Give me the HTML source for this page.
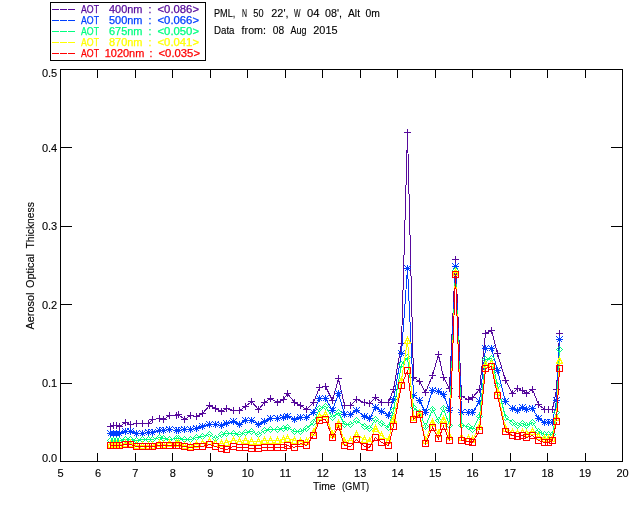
<!DOCTYPE html>
<html><head><meta charset="utf-8"><title>AOT plot</title>
<style>
html,body{margin:0;padding:0;background:#fff;}
body{width:640px;height:512px;overflow:hidden;}
svg{display:block;will-change:transform;}
text{font-family:"Liberation Sans",sans-serif;font-size:10.5px;fill:#000;stroke:#000;stroke-width:0.12px;}
.t{font-size:11px;}
.ax{stroke:#000;stroke-width:1;fill:none;shape-rendering:crispEdges;}
.s{fill:none;stroke-width:1;shape-rendering:crispEdges;}
</style></head><body>
<svg width="640" height="512" viewBox="0 0 640 512">
<rect width="640" height="512" fill="#fff"/>

<rect class="ax" x="60.5" y="69.5" width="562.0" height="392.0"/>
<path class="ax" d="M97.5 461.5v-8.5M97.5 69.5v8.5M135.5 461.5v-8.5M135.5 69.5v8.5M172.5 461.5v-8.5M172.5 69.5v8.5M210.5 461.5v-8.5M210.5 69.5v8.5M247.5 461.5v-8.5M247.5 69.5v8.5M285.5 461.5v-8.5M285.5 69.5v8.5M322.5 461.5v-8.5M322.5 69.5v8.5M360.5 461.5v-8.5M360.5 69.5v8.5M397.5 461.5v-8.5M397.5 69.5v8.5M435.5 461.5v-8.5M435.5 69.5v8.5M472.5 461.5v-8.5M472.5 69.5v8.5M510.5 461.5v-8.5M510.5 69.5v8.5M547.5 461.5v-8.5M547.5 69.5v8.5M585.5 461.5v-8.5M585.5 69.5v8.5M60.5 383.5h11.5M622.5 383.5h-11.5M60.5 304.5h11.5M622.5 304.5h-11.5M60.5 226.5h11.5M622.5 226.5h-11.5M60.5 147.5h11.5M622.5 147.5h-11.5"/>
<text x="60.5" y="477" text-anchor="middle" class="t">5</text>
<text x="98.0" y="477" text-anchor="middle" class="t">6</text>
<text x="135.4" y="477" text-anchor="middle" class="t">7</text>
<text x="172.9" y="477" text-anchor="middle" class="t">8</text>
<text x="210.4" y="477" text-anchor="middle" class="t">9</text>
<text x="247.8" y="477" text-anchor="middle" class="t">10</text>
<text x="285.3" y="477" text-anchor="middle" class="t">11</text>
<text x="322.8" y="477" text-anchor="middle" class="t">12</text>
<text x="360.2" y="477" text-anchor="middle" class="t">13</text>
<text x="397.7" y="477" text-anchor="middle" class="t">14</text>
<text x="435.2" y="477" text-anchor="middle" class="t">15</text>
<text x="472.6" y="477" text-anchor="middle" class="t">16</text>
<text x="510.1" y="477" text-anchor="middle" class="t">17</text>
<text x="547.6" y="477" text-anchor="middle" class="t">18</text>
<text x="585.0" y="477" text-anchor="middle" class="t">19</text>
<text x="622.5" y="477" text-anchor="middle" class="t">20</text>
<text x="57.2" y="461.5" text-anchor="end" class="t">0.0</text>
<text x="57.2" y="387.1" text-anchor="end" class="t">0.1</text>
<text x="57.2" y="308.7" text-anchor="end" class="t">0.2</text>
<text x="57.2" y="230.3" text-anchor="end" class="t">0.3</text>
<text x="57.2" y="151.9" text-anchor="end" class="t">0.4</text>
<text x="57.2" y="77.0" text-anchor="end" class="t">0.5</text>
<text x="313" y="490" textLength="22.5" lengthAdjust="spacingAndGlyphs">Time</text>
<text x="342" y="490" textLength="27" lengthAdjust="spacingAndGlyphs">(GMT)</text>
<text transform="translate(33.6,329.5) rotate(-90)" x="0" y="0" textLength="37" lengthAdjust="spacingAndGlyphs" style="font-size:10px">Aerosol</text>
<text transform="translate(33.6,329.5) rotate(-90)" x="41.5" y="0" textLength="34" lengthAdjust="spacingAndGlyphs" style="font-size:10px">Optical</text>
<text transform="translate(33.6,329.5) rotate(-90)" x="81" y="0" textLength="46.3" lengthAdjust="spacingAndGlyphs" style="font-size:10px">Thickness</text>
<text x="214" y="17" textLength="21.3" lengthAdjust="spacingAndGlyphs">PML,</text>
<text x="242" y="17" textLength="5.0" lengthAdjust="spacingAndGlyphs">N</text>
<text x="253.3" y="17" textLength="10.2" lengthAdjust="spacingAndGlyphs">50</text>
<text x="271.3" y="17" textLength="17.2" lengthAdjust="spacingAndGlyphs">22',</text>
<text x="294" y="17" textLength="6.5" lengthAdjust="spacingAndGlyphs">W</text>
<text x="307" y="17" textLength="12.5" lengthAdjust="spacingAndGlyphs">04</text>
<text x="325" y="17" textLength="17.0" lengthAdjust="spacingAndGlyphs">08',</text>
<text x="348" y="17" textLength="12.0" lengthAdjust="spacingAndGlyphs">Alt</text>
<text x="365.6" y="17" textLength="14.4" lengthAdjust="spacingAndGlyphs">0m</text>
<text x="214" y="34" textLength="20.5" lengthAdjust="spacingAndGlyphs">Data</text>
<text x="241.6" y="34" textLength="24.4" lengthAdjust="spacingAndGlyphs">from:</text>
<text x="272.8" y="34" textLength="11.4" lengthAdjust="spacingAndGlyphs">08</text>
<text x="290.5" y="34" textLength="16.0" lengthAdjust="spacingAndGlyphs">Aug</text>
<text x="313.3" y="34" textLength="24.2" lengthAdjust="spacingAndGlyphs">2015</text>
<rect class="ax" x="50.5" y="2.5" width="155" height="58" fill="#fff"/>
<path d="M52 9.5h6.5m1.5 0h6.5m1.5 0h6.5" stroke="#560a9c" stroke-width="1" shape-rendering="crispEdges"/>
<text x="81" y="13" fill="#560a9c" style="fill:#560a9c;stroke:#560a9c;stroke-width:0.25px" textLength="18" lengthAdjust="spacingAndGlyphs">AOT</text>
<text x="109" y="13" style="fill:#560a9c;stroke:#560a9c;stroke-width:0.25px" textLength="33.5" lengthAdjust="spacingAndGlyphs">400nm</text>
<text x="148.6" y="13" style="fill:#560a9c;stroke:#560a9c;stroke-width:0.25px">:</text>
<text x="157.5" y="13" style="fill:#560a9c;stroke:#560a9c;stroke-width:0.25px" textLength="41.5" lengthAdjust="spacingAndGlyphs">&lt;0.086&gt;</text>
<path d="M52 20.5h6.5m1.5 0h6.5m1.5 0h6.5" stroke="#0040ff" stroke-width="1" shape-rendering="crispEdges"/>
<text x="81" y="24" fill="#0040ff" style="fill:#0040ff;stroke:#0040ff;stroke-width:0.25px" textLength="18" lengthAdjust="spacingAndGlyphs">AOT</text>
<text x="109" y="24" style="fill:#0040ff;stroke:#0040ff;stroke-width:0.25px" textLength="33.5" lengthAdjust="spacingAndGlyphs">500nm</text>
<text x="148.6" y="24" style="fill:#0040ff;stroke:#0040ff;stroke-width:0.25px">:</text>
<text x="157.5" y="24" style="fill:#0040ff;stroke:#0040ff;stroke-width:0.25px" textLength="41.5" lengthAdjust="spacingAndGlyphs">&lt;0.066&gt;</text>
<path d="M52 31.5h6.5m1.5 0h6.5m1.5 0h6.5" stroke="#00ff80" stroke-width="1" shape-rendering="crispEdges"/>
<text x="81" y="35" fill="#00ff80" style="fill:#00ff80;stroke:#00ff80;stroke-width:0.25px" textLength="18" lengthAdjust="spacingAndGlyphs">AOT</text>
<text x="109" y="35" style="fill:#00ff80;stroke:#00ff80;stroke-width:0.25px" textLength="33.5" lengthAdjust="spacingAndGlyphs">675nm</text>
<text x="148.6" y="35" style="fill:#00ff80;stroke:#00ff80;stroke-width:0.25px">:</text>
<text x="157.5" y="35" style="fill:#00ff80;stroke:#00ff80;stroke-width:0.25px" textLength="41.5" lengthAdjust="spacingAndGlyphs">&lt;0.050&gt;</text>
<path d="M52 42.5h6.5m1.5 0h6.5m1.5 0h6.5" stroke="#ffff00" stroke-width="1" shape-rendering="crispEdges"/>
<text x="81" y="46" fill="#ffff00" style="fill:#ffff00;stroke:#ffff00;stroke-width:0.25px" textLength="18" lengthAdjust="spacingAndGlyphs">AOT</text>
<text x="109" y="46" style="fill:#ffff00;stroke:#ffff00;stroke-width:0.25px" textLength="33.5" lengthAdjust="spacingAndGlyphs">870nm</text>
<text x="148.6" y="46" style="fill:#ffff00;stroke:#ffff00;stroke-width:0.25px">:</text>
<text x="157.5" y="46" style="fill:#ffff00;stroke:#ffff00;stroke-width:0.25px" textLength="41.5" lengthAdjust="spacingAndGlyphs">&lt;0.041&gt;</text>
<path d="M52 53.5h6.5m1.5 0h6.5m1.5 0h6.5" stroke="#ff0000" stroke-width="1" shape-rendering="crispEdges"/>
<text x="81" y="57" fill="#ff0000" style="fill:#ff0000;stroke:#ff0000;stroke-width:0.25px" textLength="18" lengthAdjust="spacingAndGlyphs">AOT</text>
<text x="104.8" y="57" style="fill:#ff0000;stroke:#ff0000;stroke-width:0.25px" textLength="39.5" lengthAdjust="spacingAndGlyphs">1020nm</text>
<text x="149.6" y="57" style="fill:#ff0000;stroke:#ff0000;stroke-width:0.25px">:</text>
<text x="158.5" y="57" style="fill:#ff0000;stroke:#ff0000;stroke-width:0.25px" textLength="41.5" lengthAdjust="spacingAndGlyphs">&lt;0.035&gt;</text>
<polyline class="s" stroke="#560a9c" points="110.5,426.5 113.5,425.5 116.5,425.5 119.5,426.5 125.5,422.5 130.5,424.5 136.5,423.5 142.5,423.5 148.5,423.5 152.5,419.5 159.5,418.5 163.5,419.5 169.5,415.5 176.5,415.5 178.5,414.5 184.5,419.5 190.5,415.5 196.5,416.5 202.5,413.5 209.5,405.5 215.5,408.5 221.5,411.5 226.5,408.5 233.5,410.5 239.5,410.5 245.5,406.5 251.5,401.5 258.5,409.5 264.5,402.5 270.5,398.5 277.5,402.5 283.5,399.5 287.5,393.5 294.5,402.5 300.5,405.5 306.5,409.5 313.5,402.5 319.5,387.5 325.5,386.5 332.5,400.5 338.5,378.5 344.5,405.5 350.5,405.5 356.5,399.5 364.5,402.5 369.5,403.5 375.5,397.5 381.5,402.5 388.5,402.5 393.5,389.5 401.5,343.5 407.5,132.5 413.5,377.5 419.5,381.5 425.5,392.5 432.5,375.5 438.5,354.5 443.5,377.5 449.5,388.5 455.5,259.5 461.5,396.5 468.5,399.5 472.5,397.5 479.5,389.5 485.5,333.5 491.5,330.5 497.5,353.5 505.5,380.5 512.5,393.5 517.5,388.5 522.5,390.5 526.5,393.5 532.5,389.5 538.5,404.5 544.5,409.5 548.5,409.5 552.5,409.5 556.5,389.5 559.5,333.5"/>
<path class="s" stroke="#560a9c" d="M107.0 426.5H114.0M110.5 423.0V430.0M110.0 425.5H117.0M113.5 422.0V429.0M113.0 425.5H120.0M116.5 422.0V429.0M116.0 426.5H123.0M119.5 423.0V430.0M122.0 422.5H129.0M125.5 419.0V426.0M127.0 424.5H134.0M130.5 421.0V428.0M133.0 423.5H140.0M136.5 420.0V427.0M139.0 423.5H146.0M142.5 420.0V427.0M145.0 423.5H152.0M148.5 420.0V427.0M149.0 419.5H156.0M152.5 416.0V423.0M156.0 418.5H163.0M159.5 415.0V422.0M160.0 419.5H167.0M163.5 416.0V423.0M166.0 415.5H173.0M169.5 412.0V419.0M173.0 415.5H180.0M176.5 412.0V419.0M175.0 414.5H182.0M178.5 411.0V418.0M181.0 419.5H188.0M184.5 416.0V423.0M187.0 415.5H194.0M190.5 412.0V419.0M193.0 416.5H200.0M196.5 413.0V420.0M199.0 413.5H206.0M202.5 410.0V417.0M206.0 405.5H213.0M209.5 402.0V409.0M212.0 408.5H219.0M215.5 405.0V412.0M218.0 411.5H225.0M221.5 408.0V415.0M223.0 408.5H230.0M226.5 405.0V412.0M230.0 410.5H237.0M233.5 407.0V414.0M236.0 410.5H243.0M239.5 407.0V414.0M242.0 406.5H249.0M245.5 403.0V410.0M248.0 401.5H255.0M251.5 398.0V405.0M255.0 409.5H262.0M258.5 406.0V413.0M261.0 402.5H268.0M264.5 399.0V406.0M267.0 398.5H274.0M270.5 395.0V402.0M274.0 402.5H281.0M277.5 399.0V406.0M280.0 399.5H287.0M283.5 396.0V403.0M284.0 393.5H291.0M287.5 390.0V397.0M291.0 402.5H298.0M294.5 399.0V406.0M297.0 405.5H304.0M300.5 402.0V409.0M303.0 409.5H310.0M306.5 406.0V413.0M310.0 402.5H317.0M313.5 399.0V406.0M316.0 387.5H323.0M319.5 384.0V391.0M322.0 386.5H329.0M325.5 383.0V390.0M329.0 400.5H336.0M332.5 397.0V404.0M335.0 378.5H342.0M338.5 375.0V382.0M341.0 405.5H348.0M344.5 402.0V409.0M347.0 405.5H354.0M350.5 402.0V409.0M353.0 399.5H360.0M356.5 396.0V403.0M361.0 402.5H368.0M364.5 399.0V406.0M366.0 403.5H373.0M369.5 400.0V407.0M372.0 397.5H379.0M375.5 394.0V401.0M378.0 402.5H385.0M381.5 399.0V406.0M385.0 402.5H392.0M388.5 399.0V406.0M390.0 389.5H397.0M393.5 386.0V393.0M398.0 343.5H405.0M401.5 340.0V347.0M404.0 132.5H411.0M407.5 129.0V136.0M410.0 377.5H417.0M413.5 374.0V381.0M416.0 381.5H423.0M419.5 378.0V385.0M422.0 392.5H429.0M425.5 389.0V396.0M429.0 375.5H436.0M432.5 372.0V379.0M435.0 354.5H442.0M438.5 351.0V358.0M440.0 377.5H447.0M443.5 374.0V381.0M446.0 388.5H453.0M449.5 385.0V392.0M452.0 259.5H459.0M455.5 256.0V263.0M458.0 396.5H465.0M461.5 393.0V400.0M465.0 399.5H472.0M468.5 396.0V403.0M469.0 397.5H476.0M472.5 394.0V401.0M476.0 389.5H483.0M479.5 386.0V393.0M482.0 333.5H489.0M485.5 330.0V337.0M488.0 330.5H495.0M491.5 327.0V334.0M494.0 353.5H501.0M497.5 350.0V357.0M502.0 380.5H509.0M505.5 377.0V384.0M509.0 393.5H516.0M512.5 390.0V397.0M514.0 388.5H521.0M517.5 385.0V392.0M519.0 390.5H526.0M522.5 387.0V394.0M523.0 393.5H530.0M526.5 390.0V397.0M529.0 389.5H536.0M532.5 386.0V393.0M535.0 404.5H542.0M538.5 401.0V408.0M541.0 409.5H548.0M544.5 406.0V413.0M545.0 409.5H552.0M548.5 406.0V413.0M549.0 409.5H556.0M552.5 406.0V413.0M553.0 389.5H560.0M556.5 386.0V393.0M556.0 333.5H563.0M559.5 330.0V337.0"/>
<polyline class="s" stroke="#0040ff" points="110.5,433.5 113.5,433.5 116.5,433.5 119.5,433.5 125.5,431.5 130.5,431.5 136.5,433.5 142.5,433.5 148.5,432.5 152.5,432.5 159.5,430.5 163.5,430.5 169.5,429.5 176.5,430.5 178.5,430.5 184.5,429.5 190.5,429.5 196.5,428.5 202.5,426.5 209.5,424.5 215.5,424.5 221.5,425.5 226.5,423.5 233.5,421.5 239.5,424.5 245.5,420.5 251.5,420.5 258.5,424.5 264.5,421.5 270.5,418.5 277.5,418.5 283.5,417.5 287.5,416.5 294.5,419.5 300.5,417.5 306.5,417.5 313.5,412.5 319.5,398.5 325.5,398.5 332.5,410.5 338.5,393.5 344.5,414.5 350.5,414.5 356.5,410.5 364.5,416.5 369.5,418.5 375.5,407.5 381.5,411.5 388.5,415.5 393.5,399.5 401.5,353.5 407.5,268.5 413.5,395.5 419.5,400.5 425.5,412.5 432.5,390.5 438.5,391.5 443.5,394.5 449.5,410.5 455.5,266.5 461.5,412.5 468.5,412.5 472.5,412.5 479.5,401.5 485.5,348.5 491.5,348.5 497.5,370.5 505.5,401.5 512.5,408.5 517.5,410.5 522.5,407.5 526.5,409.5 532.5,408.5 538.5,418.5 544.5,422.5 548.5,422.5 552.5,422.5 556.5,400.5 559.5,339.5"/>
<path class="s" stroke="#0040ff" d="M107.0 433.5H114.0M110.5 430.0V437.0M107.5 430.5L113.5 436.5M107.5 436.5L113.5 430.5M110.0 433.5H117.0M113.5 430.0V437.0M110.5 430.5L116.5 436.5M110.5 436.5L116.5 430.5M113.0 433.5H120.0M116.5 430.0V437.0M113.5 430.5L119.5 436.5M113.5 436.5L119.5 430.5M116.0 433.5H123.0M119.5 430.0V437.0M116.5 430.5L122.5 436.5M116.5 436.5L122.5 430.5M122.0 431.5H129.0M125.5 428.0V435.0M122.5 428.5L128.5 434.5M122.5 434.5L128.5 428.5M127.0 431.5H134.0M130.5 428.0V435.0M127.5 428.5L133.5 434.5M127.5 434.5L133.5 428.5M133.0 433.5H140.0M136.5 430.0V437.0M133.5 430.5L139.5 436.5M133.5 436.5L139.5 430.5M139.0 433.5H146.0M142.5 430.0V437.0M139.5 430.5L145.5 436.5M139.5 436.5L145.5 430.5M145.0 432.5H152.0M148.5 429.0V436.0M145.5 429.5L151.5 435.5M145.5 435.5L151.5 429.5M149.0 432.5H156.0M152.5 429.0V436.0M149.5 429.5L155.5 435.5M149.5 435.5L155.5 429.5M156.0 430.5H163.0M159.5 427.0V434.0M156.5 427.5L162.5 433.5M156.5 433.5L162.5 427.5M160.0 430.5H167.0M163.5 427.0V434.0M160.5 427.5L166.5 433.5M160.5 433.5L166.5 427.5M166.0 429.5H173.0M169.5 426.0V433.0M166.5 426.5L172.5 432.5M166.5 432.5L172.5 426.5M173.0 430.5H180.0M176.5 427.0V434.0M173.5 427.5L179.5 433.5M173.5 433.5L179.5 427.5M175.0 430.5H182.0M178.5 427.0V434.0M175.5 427.5L181.5 433.5M175.5 433.5L181.5 427.5M181.0 429.5H188.0M184.5 426.0V433.0M181.5 426.5L187.5 432.5M181.5 432.5L187.5 426.5M187.0 429.5H194.0M190.5 426.0V433.0M187.5 426.5L193.5 432.5M187.5 432.5L193.5 426.5M193.0 428.5H200.0M196.5 425.0V432.0M193.5 425.5L199.5 431.5M193.5 431.5L199.5 425.5M199.0 426.5H206.0M202.5 423.0V430.0M199.5 423.5L205.5 429.5M199.5 429.5L205.5 423.5M206.0 424.5H213.0M209.5 421.0V428.0M206.5 421.5L212.5 427.5M206.5 427.5L212.5 421.5M212.0 424.5H219.0M215.5 421.0V428.0M212.5 421.5L218.5 427.5M212.5 427.5L218.5 421.5M218.0 425.5H225.0M221.5 422.0V429.0M218.5 422.5L224.5 428.5M218.5 428.5L224.5 422.5M223.0 423.5H230.0M226.5 420.0V427.0M223.5 420.5L229.5 426.5M223.5 426.5L229.5 420.5M230.0 421.5H237.0M233.5 418.0V425.0M230.5 418.5L236.5 424.5M230.5 424.5L236.5 418.5M236.0 424.5H243.0M239.5 421.0V428.0M236.5 421.5L242.5 427.5M236.5 427.5L242.5 421.5M242.0 420.5H249.0M245.5 417.0V424.0M242.5 417.5L248.5 423.5M242.5 423.5L248.5 417.5M248.0 420.5H255.0M251.5 417.0V424.0M248.5 417.5L254.5 423.5M248.5 423.5L254.5 417.5M255.0 424.5H262.0M258.5 421.0V428.0M255.5 421.5L261.5 427.5M255.5 427.5L261.5 421.5M261.0 421.5H268.0M264.5 418.0V425.0M261.5 418.5L267.5 424.5M261.5 424.5L267.5 418.5M267.0 418.5H274.0M270.5 415.0V422.0M267.5 415.5L273.5 421.5M267.5 421.5L273.5 415.5M274.0 418.5H281.0M277.5 415.0V422.0M274.5 415.5L280.5 421.5M274.5 421.5L280.5 415.5M280.0 417.5H287.0M283.5 414.0V421.0M280.5 414.5L286.5 420.5M280.5 420.5L286.5 414.5M284.0 416.5H291.0M287.5 413.0V420.0M284.5 413.5L290.5 419.5M284.5 419.5L290.5 413.5M291.0 419.5H298.0M294.5 416.0V423.0M291.5 416.5L297.5 422.5M291.5 422.5L297.5 416.5M297.0 417.5H304.0M300.5 414.0V421.0M297.5 414.5L303.5 420.5M297.5 420.5L303.5 414.5M303.0 417.5H310.0M306.5 414.0V421.0M303.5 414.5L309.5 420.5M303.5 420.5L309.5 414.5M310.0 412.5H317.0M313.5 409.0V416.0M310.5 409.5L316.5 415.5M310.5 415.5L316.5 409.5M316.0 398.5H323.0M319.5 395.0V402.0M316.5 395.5L322.5 401.5M316.5 401.5L322.5 395.5M322.0 398.5H329.0M325.5 395.0V402.0M322.5 395.5L328.5 401.5M322.5 401.5L328.5 395.5M329.0 410.5H336.0M332.5 407.0V414.0M329.5 407.5L335.5 413.5M329.5 413.5L335.5 407.5M335.0 393.5H342.0M338.5 390.0V397.0M335.5 390.5L341.5 396.5M335.5 396.5L341.5 390.5M341.0 414.5H348.0M344.5 411.0V418.0M341.5 411.5L347.5 417.5M341.5 417.5L347.5 411.5M347.0 414.5H354.0M350.5 411.0V418.0M347.5 411.5L353.5 417.5M347.5 417.5L353.5 411.5M353.0 410.5H360.0M356.5 407.0V414.0M353.5 407.5L359.5 413.5M353.5 413.5L359.5 407.5M361.0 416.5H368.0M364.5 413.0V420.0M361.5 413.5L367.5 419.5M361.5 419.5L367.5 413.5M366.0 418.5H373.0M369.5 415.0V422.0M366.5 415.5L372.5 421.5M366.5 421.5L372.5 415.5M372.0 407.5H379.0M375.5 404.0V411.0M372.5 404.5L378.5 410.5M372.5 410.5L378.5 404.5M378.0 411.5H385.0M381.5 408.0V415.0M378.5 408.5L384.5 414.5M378.5 414.5L384.5 408.5M385.0 415.5H392.0M388.5 412.0V419.0M385.5 412.5L391.5 418.5M385.5 418.5L391.5 412.5M390.0 399.5H397.0M393.5 396.0V403.0M390.5 396.5L396.5 402.5M390.5 402.5L396.5 396.5M398.0 353.5H405.0M401.5 350.0V357.0M398.5 350.5L404.5 356.5M398.5 356.5L404.5 350.5M404.0 268.5H411.0M407.5 265.0V272.0M404.5 265.5L410.5 271.5M404.5 271.5L410.5 265.5M410.0 395.5H417.0M413.5 392.0V399.0M410.5 392.5L416.5 398.5M410.5 398.5L416.5 392.5M416.0 400.5H423.0M419.5 397.0V404.0M416.5 397.5L422.5 403.5M416.5 403.5L422.5 397.5M422.0 412.5H429.0M425.5 409.0V416.0M422.5 409.5L428.5 415.5M422.5 415.5L428.5 409.5M429.0 390.5H436.0M432.5 387.0V394.0M429.5 387.5L435.5 393.5M429.5 393.5L435.5 387.5M435.0 391.5H442.0M438.5 388.0V395.0M435.5 388.5L441.5 394.5M435.5 394.5L441.5 388.5M440.0 394.5H447.0M443.5 391.0V398.0M440.5 391.5L446.5 397.5M440.5 397.5L446.5 391.5M446.0 410.5H453.0M449.5 407.0V414.0M446.5 407.5L452.5 413.5M446.5 413.5L452.5 407.5M452.0 266.5H459.0M455.5 263.0V270.0M452.5 263.5L458.5 269.5M452.5 269.5L458.5 263.5M458.0 412.5H465.0M461.5 409.0V416.0M458.5 409.5L464.5 415.5M458.5 415.5L464.5 409.5M465.0 412.5H472.0M468.5 409.0V416.0M465.5 409.5L471.5 415.5M465.5 415.5L471.5 409.5M469.0 412.5H476.0M472.5 409.0V416.0M469.5 409.5L475.5 415.5M469.5 415.5L475.5 409.5M476.0 401.5H483.0M479.5 398.0V405.0M476.5 398.5L482.5 404.5M476.5 404.5L482.5 398.5M482.0 348.5H489.0M485.5 345.0V352.0M482.5 345.5L488.5 351.5M482.5 351.5L488.5 345.5M488.0 348.5H495.0M491.5 345.0V352.0M488.5 345.5L494.5 351.5M488.5 351.5L494.5 345.5M494.0 370.5H501.0M497.5 367.0V374.0M494.5 367.5L500.5 373.5M494.5 373.5L500.5 367.5M502.0 401.5H509.0M505.5 398.0V405.0M502.5 398.5L508.5 404.5M502.5 404.5L508.5 398.5M509.0 408.5H516.0M512.5 405.0V412.0M509.5 405.5L515.5 411.5M509.5 411.5L515.5 405.5M514.0 410.5H521.0M517.5 407.0V414.0M514.5 407.5L520.5 413.5M514.5 413.5L520.5 407.5M519.0 407.5H526.0M522.5 404.0V411.0M519.5 404.5L525.5 410.5M519.5 410.5L525.5 404.5M523.0 409.5H530.0M526.5 406.0V413.0M523.5 406.5L529.5 412.5M523.5 412.5L529.5 406.5M529.0 408.5H536.0M532.5 405.0V412.0M529.5 405.5L535.5 411.5M529.5 411.5L535.5 405.5M535.0 418.5H542.0M538.5 415.0V422.0M535.5 415.5L541.5 421.5M535.5 421.5L541.5 415.5M541.0 422.5H548.0M544.5 419.0V426.0M541.5 419.5L547.5 425.5M541.5 425.5L547.5 419.5M545.0 422.5H552.0M548.5 419.0V426.0M545.5 419.5L551.5 425.5M545.5 425.5L551.5 419.5M549.0 422.5H556.0M552.5 419.0V426.0M549.5 419.5L555.5 425.5M549.5 425.5L555.5 419.5M553.0 400.5H560.0M556.5 397.0V404.0M553.5 397.5L559.5 403.5M553.5 403.5L559.5 397.5M556.0 339.5H563.0M559.5 336.0V343.0M556.5 336.5L562.5 342.5M556.5 342.5L562.5 336.5"/>
<polyline class="s" stroke="#00ff80" points="110.5,440.5 113.5,440.5 116.5,440.5 119.5,440.5 125.5,439.5 130.5,439.5 136.5,440.5 142.5,439.5 148.5,439.5 152.5,439.5 159.5,437.5 163.5,438.5 169.5,439.5 176.5,438.5 178.5,438.5 184.5,439.5 190.5,439.5 196.5,437.5 202.5,436.5 209.5,434.5 215.5,438.5 221.5,434.5 226.5,433.5 233.5,433.5 239.5,434.5 245.5,432.5 251.5,431.5 258.5,434.5 264.5,430.5 270.5,429.5 277.5,429.5 283.5,428.5 287.5,427.5 294.5,431.5 300.5,431.5 306.5,428.5 313.5,422.5 319.5,408.5 325.5,406.5 332.5,417.5 338.5,412.5 344.5,424.5 350.5,424.5 356.5,420.5 364.5,426.5 369.5,428.5 375.5,419.5 381.5,423.5 388.5,427.5 393.5,410.5 401.5,364.5 407.5,357.5 413.5,407.5 419.5,412.5 425.5,426.5 432.5,409.5 438.5,420.5 443.5,408.5 449.5,425.5 455.5,270.5 461.5,425.5 468.5,426.5 472.5,429.5 479.5,416.5 485.5,359.5 491.5,358.5 497.5,385.5 505.5,417.5 512.5,422.5 517.5,425.5 522.5,423.5 526.5,425.5 532.5,422.5 538.5,431.5 544.5,434.5 548.5,434.5 552.5,434.5 556.5,412.5 559.5,349.5"/>
<path class="s" stroke="#00ff80" d="M107.5 440.5L110.5 437.5L113.5 440.5L110.5 443.5ZM110.5 440.5L113.5 437.5L116.5 440.5L113.5 443.5ZM113.5 440.5L116.5 437.5L119.5 440.5L116.5 443.5ZM116.5 440.5L119.5 437.5L122.5 440.5L119.5 443.5ZM122.5 439.5L125.5 436.5L128.5 439.5L125.5 442.5ZM127.5 439.5L130.5 436.5L133.5 439.5L130.5 442.5ZM133.5 440.5L136.5 437.5L139.5 440.5L136.5 443.5ZM139.5 439.5L142.5 436.5L145.5 439.5L142.5 442.5ZM145.5 439.5L148.5 436.5L151.5 439.5L148.5 442.5ZM149.5 439.5L152.5 436.5L155.5 439.5L152.5 442.5ZM156.5 437.5L159.5 434.5L162.5 437.5L159.5 440.5ZM160.5 438.5L163.5 435.5L166.5 438.5L163.5 441.5ZM166.5 439.5L169.5 436.5L172.5 439.5L169.5 442.5ZM173.5 438.5L176.5 435.5L179.5 438.5L176.5 441.5ZM175.5 438.5L178.5 435.5L181.5 438.5L178.5 441.5ZM181.5 439.5L184.5 436.5L187.5 439.5L184.5 442.5ZM187.5 439.5L190.5 436.5L193.5 439.5L190.5 442.5ZM193.5 437.5L196.5 434.5L199.5 437.5L196.5 440.5ZM199.5 436.5L202.5 433.5L205.5 436.5L202.5 439.5ZM206.5 434.5L209.5 431.5L212.5 434.5L209.5 437.5ZM212.5 438.5L215.5 435.5L218.5 438.5L215.5 441.5ZM218.5 434.5L221.5 431.5L224.5 434.5L221.5 437.5ZM223.5 433.5L226.5 430.5L229.5 433.5L226.5 436.5ZM230.5 433.5L233.5 430.5L236.5 433.5L233.5 436.5ZM236.5 434.5L239.5 431.5L242.5 434.5L239.5 437.5ZM242.5 432.5L245.5 429.5L248.5 432.5L245.5 435.5ZM248.5 431.5L251.5 428.5L254.5 431.5L251.5 434.5ZM255.5 434.5L258.5 431.5L261.5 434.5L258.5 437.5ZM261.5 430.5L264.5 427.5L267.5 430.5L264.5 433.5ZM267.5 429.5L270.5 426.5L273.5 429.5L270.5 432.5ZM274.5 429.5L277.5 426.5L280.5 429.5L277.5 432.5ZM280.5 428.5L283.5 425.5L286.5 428.5L283.5 431.5ZM284.5 427.5L287.5 424.5L290.5 427.5L287.5 430.5ZM291.5 431.5L294.5 428.5L297.5 431.5L294.5 434.5ZM297.5 431.5L300.5 428.5L303.5 431.5L300.5 434.5ZM303.5 428.5L306.5 425.5L309.5 428.5L306.5 431.5ZM310.5 422.5L313.5 419.5L316.5 422.5L313.5 425.5ZM316.5 408.5L319.5 405.5L322.5 408.5L319.5 411.5ZM322.5 406.5L325.5 403.5L328.5 406.5L325.5 409.5ZM329.5 417.5L332.5 414.5L335.5 417.5L332.5 420.5ZM335.5 412.5L338.5 409.5L341.5 412.5L338.5 415.5ZM341.5 424.5L344.5 421.5L347.5 424.5L344.5 427.5ZM347.5 424.5L350.5 421.5L353.5 424.5L350.5 427.5ZM353.5 420.5L356.5 417.5L359.5 420.5L356.5 423.5ZM361.5 426.5L364.5 423.5L367.5 426.5L364.5 429.5ZM366.5 428.5L369.5 425.5L372.5 428.5L369.5 431.5ZM372.5 419.5L375.5 416.5L378.5 419.5L375.5 422.5ZM378.5 423.5L381.5 420.5L384.5 423.5L381.5 426.5ZM385.5 427.5L388.5 424.5L391.5 427.5L388.5 430.5ZM390.5 410.5L393.5 407.5L396.5 410.5L393.5 413.5ZM398.5 364.5L401.5 361.5L404.5 364.5L401.5 367.5ZM404.5 357.5L407.5 354.5L410.5 357.5L407.5 360.5ZM410.5 407.5L413.5 404.5L416.5 407.5L413.5 410.5ZM416.5 412.5L419.5 409.5L422.5 412.5L419.5 415.5ZM422.5 426.5L425.5 423.5L428.5 426.5L425.5 429.5ZM429.5 409.5L432.5 406.5L435.5 409.5L432.5 412.5ZM435.5 420.5L438.5 417.5L441.5 420.5L438.5 423.5ZM440.5 408.5L443.5 405.5L446.5 408.5L443.5 411.5ZM446.5 425.5L449.5 422.5L452.5 425.5L449.5 428.5ZM452.5 270.5L455.5 267.5L458.5 270.5L455.5 273.5ZM458.5 425.5L461.5 422.5L464.5 425.5L461.5 428.5ZM465.5 426.5L468.5 423.5L471.5 426.5L468.5 429.5ZM469.5 429.5L472.5 426.5L475.5 429.5L472.5 432.5ZM476.5 416.5L479.5 413.5L482.5 416.5L479.5 419.5ZM482.5 359.5L485.5 356.5L488.5 359.5L485.5 362.5ZM488.5 358.5L491.5 355.5L494.5 358.5L491.5 361.5ZM494.5 385.5L497.5 382.5L500.5 385.5L497.5 388.5ZM502.5 417.5L505.5 414.5L508.5 417.5L505.5 420.5ZM509.5 422.5L512.5 419.5L515.5 422.5L512.5 425.5ZM514.5 425.5L517.5 422.5L520.5 425.5L517.5 428.5ZM519.5 423.5L522.5 420.5L525.5 423.5L522.5 426.5ZM523.5 425.5L526.5 422.5L529.5 425.5L526.5 428.5ZM529.5 422.5L532.5 419.5L535.5 422.5L532.5 425.5ZM535.5 431.5L538.5 428.5L541.5 431.5L538.5 434.5ZM541.5 434.5L544.5 431.5L547.5 434.5L544.5 437.5ZM545.5 434.5L548.5 431.5L551.5 434.5L548.5 437.5ZM549.5 434.5L552.5 431.5L555.5 434.5L552.5 437.5ZM553.5 412.5L556.5 409.5L559.5 412.5L556.5 415.5ZM556.5 349.5L559.5 346.5L562.5 349.5L559.5 352.5Z"/>
<polyline class="s" stroke="#ffff00" points="110.5,444.5 113.5,444.5 116.5,444.5 119.5,444.5 125.5,443.5 130.5,443.5 136.5,445.5 142.5,445.5 148.5,445.5 152.5,445.5 159.5,443.5 163.5,444.5 169.5,443.5 176.5,443.5 178.5,443.5 184.5,445.5 190.5,446.5 196.5,444.5 202.5,443.5 209.5,441.5 215.5,443.5 221.5,443.5 226.5,442.5 233.5,440.5 239.5,441.5 245.5,440.5 251.5,441.5 258.5,441.5 264.5,440.5 270.5,440.5 277.5,440.5 283.5,439.5 287.5,438.5 294.5,440.5 300.5,441.5 306.5,441.5 313.5,432.5 319.5,416.5 325.5,414.5 332.5,434.5 338.5,423.5 344.5,441.5 350.5,440.5 356.5,434.5 364.5,439.5 369.5,441.5 375.5,428.5 381.5,435.5 388.5,440.5 393.5,419.5 401.5,380.5 407.5,340.5 413.5,417.5 419.5,413.5 425.5,440.5 432.5,422.5 438.5,433.5 443.5,419.5 449.5,436.5 455.5,272.5 461.5,437.5 468.5,438.5 472.5,439.5 479.5,426.5 485.5,364.5 491.5,363.5 497.5,391.5 505.5,428.5 512.5,432.5 517.5,433.5 522.5,432.5 526.5,433.5 532.5,431.5 538.5,436.5 544.5,438.5 548.5,438.5 552.5,438.5 556.5,417.5 559.5,360.5"/>
<path class="s" stroke="#ffff00" d="M107.5 447.5L110.5 441.5L113.5 447.5ZM110.5 447.5L113.5 441.5L116.5 447.5ZM113.5 447.5L116.5 441.5L119.5 447.5ZM116.5 447.5L119.5 441.5L122.5 447.5ZM122.5 446.5L125.5 440.5L128.5 446.5ZM127.5 446.5L130.5 440.5L133.5 446.5ZM133.5 448.5L136.5 442.5L139.5 448.5ZM139.5 448.5L142.5 442.5L145.5 448.5ZM145.5 448.5L148.5 442.5L151.5 448.5ZM149.5 448.5L152.5 442.5L155.5 448.5ZM156.5 446.5L159.5 440.5L162.5 446.5ZM160.5 447.5L163.5 441.5L166.5 447.5ZM166.5 446.5L169.5 440.5L172.5 446.5ZM173.5 446.5L176.5 440.5L179.5 446.5ZM175.5 446.5L178.5 440.5L181.5 446.5ZM181.5 448.5L184.5 442.5L187.5 448.5ZM187.5 449.5L190.5 443.5L193.5 449.5ZM193.5 447.5L196.5 441.5L199.5 447.5ZM199.5 446.5L202.5 440.5L205.5 446.5ZM206.5 444.5L209.5 438.5L212.5 444.5ZM212.5 446.5L215.5 440.5L218.5 446.5ZM218.5 446.5L221.5 440.5L224.5 446.5ZM223.5 445.5L226.5 439.5L229.5 445.5ZM230.5 443.5L233.5 437.5L236.5 443.5ZM236.5 444.5L239.5 438.5L242.5 444.5ZM242.5 443.5L245.5 437.5L248.5 443.5ZM248.5 444.5L251.5 438.5L254.5 444.5ZM255.5 444.5L258.5 438.5L261.5 444.5ZM261.5 443.5L264.5 437.5L267.5 443.5ZM267.5 443.5L270.5 437.5L273.5 443.5ZM274.5 443.5L277.5 437.5L280.5 443.5ZM280.5 442.5L283.5 436.5L286.5 442.5ZM284.5 441.5L287.5 435.5L290.5 441.5ZM291.5 443.5L294.5 437.5L297.5 443.5ZM297.5 444.5L300.5 438.5L303.5 444.5ZM303.5 444.5L306.5 438.5L309.5 444.5ZM310.5 435.5L313.5 429.5L316.5 435.5ZM316.5 419.5L319.5 413.5L322.5 419.5ZM322.5 417.5L325.5 411.5L328.5 417.5ZM329.5 437.5L332.5 431.5L335.5 437.5ZM335.5 426.5L338.5 420.5L341.5 426.5ZM341.5 444.5L344.5 438.5L347.5 444.5ZM347.5 443.5L350.5 437.5L353.5 443.5ZM353.5 437.5L356.5 431.5L359.5 437.5ZM361.5 442.5L364.5 436.5L367.5 442.5ZM366.5 444.5L369.5 438.5L372.5 444.5ZM372.5 431.5L375.5 425.5L378.5 431.5ZM378.5 438.5L381.5 432.5L384.5 438.5ZM385.5 443.5L388.5 437.5L391.5 443.5ZM390.5 422.5L393.5 416.5L396.5 422.5ZM398.5 383.5L401.5 377.5L404.5 383.5ZM404.5 343.5L407.5 337.5L410.5 343.5ZM410.5 420.5L413.5 414.5L416.5 420.5ZM416.5 416.5L419.5 410.5L422.5 416.5ZM422.5 443.5L425.5 437.5L428.5 443.5ZM429.5 425.5L432.5 419.5L435.5 425.5ZM435.5 436.5L438.5 430.5L441.5 436.5ZM440.5 422.5L443.5 416.5L446.5 422.5ZM446.5 439.5L449.5 433.5L452.5 439.5ZM452.5 275.5L455.5 269.5L458.5 275.5ZM458.5 440.5L461.5 434.5L464.5 440.5ZM465.5 441.5L468.5 435.5L471.5 441.5ZM469.5 442.5L472.5 436.5L475.5 442.5ZM476.5 429.5L479.5 423.5L482.5 429.5ZM482.5 367.5L485.5 361.5L488.5 367.5ZM488.5 366.5L491.5 360.5L494.5 366.5ZM494.5 394.5L497.5 388.5L500.5 394.5ZM502.5 431.5L505.5 425.5L508.5 431.5ZM509.5 435.5L512.5 429.5L515.5 435.5ZM514.5 436.5L517.5 430.5L520.5 436.5ZM519.5 435.5L522.5 429.5L525.5 435.5ZM523.5 436.5L526.5 430.5L529.5 436.5ZM529.5 434.5L532.5 428.5L535.5 434.5ZM535.5 439.5L538.5 433.5L541.5 439.5ZM541.5 441.5L544.5 435.5L547.5 441.5ZM545.5 441.5L548.5 435.5L551.5 441.5ZM549.5 441.5L552.5 435.5L555.5 441.5ZM553.5 420.5L556.5 414.5L559.5 420.5ZM556.5 363.5L559.5 357.5L562.5 363.5Z"/>
<polyline class="s" stroke="#ff0000" points="110.5,445.5 113.5,445.5 116.5,445.5 119.5,445.5 125.5,444.5 130.5,444.5 136.5,446.5 142.5,446.5 148.5,446.5 152.5,446.5 159.5,445.5 163.5,445.5 169.5,445.5 176.5,445.5 178.5,445.5 184.5,446.5 190.5,447.5 196.5,446.5 202.5,446.5 209.5,444.5 215.5,446.5 221.5,448.5 226.5,449.5 233.5,446.5 239.5,447.5 245.5,447.5 251.5,448.5 258.5,448.5 264.5,447.5 270.5,447.5 277.5,447.5 283.5,447.5 287.5,445.5 294.5,447.5 300.5,443.5 306.5,445.5 313.5,435.5 319.5,420.5 325.5,419.5 332.5,437.5 338.5,426.5 344.5,445.5 350.5,446.5 356.5,439.5 364.5,446.5 369.5,447.5 375.5,437.5 381.5,442.5 388.5,445.5 393.5,426.5 401.5,385.5 407.5,370.5 413.5,419.5 419.5,414.5 425.5,443.5 432.5,427.5 438.5,438.5 443.5,426.5 449.5,440.5 455.5,274.5 461.5,440.5 468.5,441.5 472.5,442.5 479.5,430.5 485.5,368.5 491.5,366.5 497.5,395.5 505.5,431.5 512.5,435.5 517.5,436.5 522.5,435.5 526.5,437.5 532.5,435.5 538.5,440.5 544.5,442.5 548.5,442.5 552.5,440.5 556.5,421.5 559.5,368.5"/>
<path class="s" stroke="#ff0000" d="M107.5 442.5H113.5V448.5H107.5ZM110.5 442.5H116.5V448.5H110.5ZM113.5 442.5H119.5V448.5H113.5ZM116.5 442.5H122.5V448.5H116.5ZM122.5 441.5H128.5V447.5H122.5ZM127.5 441.5H133.5V447.5H127.5ZM133.5 443.5H139.5V449.5H133.5ZM139.5 443.5H145.5V449.5H139.5ZM145.5 443.5H151.5V449.5H145.5ZM149.5 443.5H155.5V449.5H149.5ZM156.5 442.5H162.5V448.5H156.5ZM160.5 442.5H166.5V448.5H160.5ZM166.5 442.5H172.5V448.5H166.5ZM173.5 442.5H179.5V448.5H173.5ZM175.5 442.5H181.5V448.5H175.5ZM181.5 443.5H187.5V449.5H181.5ZM187.5 444.5H193.5V450.5H187.5ZM193.5 443.5H199.5V449.5H193.5ZM199.5 443.5H205.5V449.5H199.5ZM206.5 441.5H212.5V447.5H206.5ZM212.5 443.5H218.5V449.5H212.5ZM218.5 445.5H224.5V451.5H218.5ZM223.5 446.5H229.5V452.5H223.5ZM230.5 443.5H236.5V449.5H230.5ZM236.5 444.5H242.5V450.5H236.5ZM242.5 444.5H248.5V450.5H242.5ZM248.5 445.5H254.5V451.5H248.5ZM255.5 445.5H261.5V451.5H255.5ZM261.5 444.5H267.5V450.5H261.5ZM267.5 444.5H273.5V450.5H267.5ZM274.5 444.5H280.5V450.5H274.5ZM280.5 444.5H286.5V450.5H280.5ZM284.5 442.5H290.5V448.5H284.5ZM291.5 444.5H297.5V450.5H291.5ZM297.5 440.5H303.5V446.5H297.5ZM303.5 442.5H309.5V448.5H303.5ZM310.5 432.5H316.5V438.5H310.5ZM316.5 417.5H322.5V423.5H316.5ZM322.5 416.5H328.5V422.5H322.5ZM329.5 434.5H335.5V440.5H329.5ZM335.5 423.5H341.5V429.5H335.5ZM341.5 442.5H347.5V448.5H341.5ZM347.5 443.5H353.5V449.5H347.5ZM353.5 436.5H359.5V442.5H353.5ZM361.5 443.5H367.5V449.5H361.5ZM366.5 444.5H372.5V450.5H366.5ZM372.5 434.5H378.5V440.5H372.5ZM378.5 439.5H384.5V445.5H378.5ZM385.5 442.5H391.5V448.5H385.5ZM390.5 423.5H396.5V429.5H390.5ZM398.5 382.5H404.5V388.5H398.5ZM404.5 367.5H410.5V373.5H404.5ZM410.5 416.5H416.5V422.5H410.5ZM416.5 411.5H422.5V417.5H416.5ZM422.5 440.5H428.5V446.5H422.5ZM429.5 424.5H435.5V430.5H429.5ZM435.5 435.5H441.5V441.5H435.5ZM440.5 423.5H446.5V429.5H440.5ZM446.5 437.5H452.5V443.5H446.5ZM452.5 271.5H458.5V277.5H452.5ZM458.5 437.5H464.5V443.5H458.5ZM465.5 438.5H471.5V444.5H465.5ZM469.5 439.5H475.5V445.5H469.5ZM476.5 427.5H482.5V433.5H476.5ZM482.5 365.5H488.5V371.5H482.5ZM488.5 363.5H494.5V369.5H488.5ZM494.5 392.5H500.5V398.5H494.5ZM502.5 428.5H508.5V434.5H502.5ZM509.5 432.5H515.5V438.5H509.5ZM514.5 433.5H520.5V439.5H514.5ZM519.5 432.5H525.5V438.5H519.5ZM523.5 434.5H529.5V440.5H523.5ZM529.5 432.5H535.5V438.5H529.5ZM535.5 437.5H541.5V443.5H535.5ZM541.5 439.5H547.5V445.5H541.5ZM545.5 439.5H551.5V445.5H545.5ZM549.5 437.5H555.5V443.5H549.5ZM553.5 418.5H559.5V424.5H553.5ZM556.5 365.5H562.5V371.5H556.5Z"/>
</svg></body></html>
